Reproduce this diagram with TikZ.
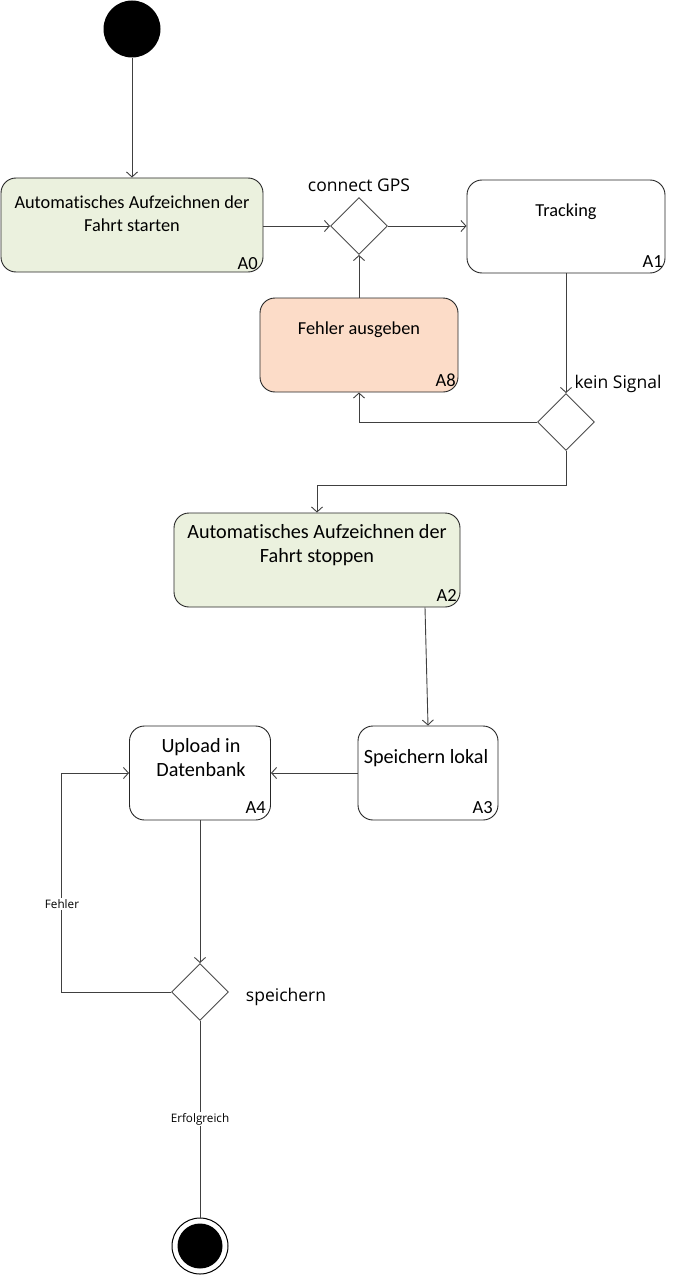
\documentclass[tikz,border=0pt]{standalone}
\usepackage{fontspec}
\setmainfont{Carlito}[Ligatures=NoCommon]
\newfontfamily\segoe{Open Sans}
\usetikzlibrary{arrows.meta,shapes.geometric}
\definecolor{actgreen}{HTML}{EBF1DE}
\definecolor{actpeach}{HTML}{FCDCC8}
\definecolor{linegray}{HTML}{404040}
\begin{document}
\begin{tikzpicture}[x=1pt,y=-1pt,
  act/.style={draw=black!85,line width=0.9pt,rounded corners=15pt,inner sep=0pt,fill=white},
  btxt/.style={font=\fontsize{18.3}{23}\selectfont,align=center,inner sep=0pt},
  bigtxt/.style={font=\fontsize{20.2}{24}\selectfont,align=center,inner sep=0pt},
  idl/.style={font=\fontsize{18.5}{20}\selectfont,anchor=south east,inner sep=0pt},
  guard/.style={font=\segoe\fontsize{17.5}{19}\selectfont,inner sep=0pt},
  small/.style={font=\segoe\fontsize{11.7}{13}\selectfont,fill=white,inner sep=1.5pt},
  dec/.style={diamond,draw=black!70,line width=0.9pt,aspect=1,minimum width=57pt,minimum height=57pt,inner sep=0pt,fill=white},
  conn/.style={draw=linegray,line width=0.9pt,-{Straight Barb[length=5pt,width=11pt,line width=0.9pt]}},
  plain/.style={draw=linegray,line width=0.9pt}
]
\useasboundingbox (0,0) rectangle (672,1276);

% start
\node[circle,fill=black,minimum size=57pt,inner sep=0pt] (s) at (132,29) {};

% activities
\node[act,fill=actgreen,minimum width=262pt,minimum height=94pt] (a0) at (132,225) {};
\node[btxt] (a0t) at (132,214) {Automatisches Aufzeichnen der\\Fahrt starten};
\node[idl] (a0l) at (258,270) {A0};

\node[dec] (d1) at (359,226) {};
\node[guard] (d1t) at (359,185) {connect GPS};

\node[act,minimum width=198pt,minimum height=93pt] (a1) at (566,226.5) {};
\node[btxt] (a1t) at (566,212) {Tracking};
\node[idl] (a1l) at (663,268) {A1};

\node[act,fill=actpeach,minimum width=198pt,minimum height=94pt] (a8) at (359,345) {};
\node[btxt] (a8t) at (359,330) {Fehler ausgeben};
\node[idl] (a8l) at (456,387) {A8};

\node[dec] (d2) at (566,422) {};
\node[guard] (d2t) at (618,384) {kein Signal};

\node[act,fill=actgreen,minimum width=286pt,minimum height=94pt] (a2) at (317,560) {};
\node[bigtxt] (a2t) at (317,545) {Automatisches Aufzeichnen der\\Fahrt stoppen};
\node[idl] (a2l) at (457,602) {A2};

\node[act,minimum width=140pt,minimum height=94pt] (a3) at (428,773) {};
\node[bigtxt] (a3t) at (426,758) {Speichern lokal};
\node[idl] (a3l) at (493,814) {A3};

\node[act,minimum width=141pt,minimum height=94pt] (a4) at (200,773) {};
\node[bigtxt] (a4t) at (201,758) {Upload in\\Datenbank};
\node[idl] (a4l) at (266,814) {A4};

\node[dec] (d3) at (200,992) {};
\node[guard] (d3t) at (286,997) {speichern};

% end
\node[circle,draw=black,line width=1pt,fill=white,minimum size=56pt,inner sep=0pt] (e) at (200,1246) {};
\node[circle,fill=black,minimum size=45pt,inner sep=0pt] (ei) at (200,1246) {};

% connectors
\draw[conn] (s) -- (a0);
\draw[conn] (a0.east |- d1.west) -- (d1.west);
\draw[conn] (d1.east) -- (d1.east -| a1.west);
\draw[conn] (a8.north) -- (d1.south);
\draw[conn] (a1.south -| d2.north) -- (d2.north);
\draw[conn] (d2.west) -| (a8.south);
\draw[conn] (d2.south) -- ++(0,34) -| (a2.north);
\draw[conn] ([xshift=108pt]a2.south) -- (a3.north);
\draw[conn] (a3.west) -- (a4.east);
\draw[conn] (a4.south) -- (d3.north);
\draw[conn] (d3.west) -| ([xshift=-68pt]a4.west) -- (a4.west);
\draw[plain] (d3.south) -- (e.north);

% labels on connectors
\node[small] (fl) at (62,904) {Fehler};
\node[small] (el) at (200,1119) {Erfolgreich};
\end{tikzpicture}
\end{document}
